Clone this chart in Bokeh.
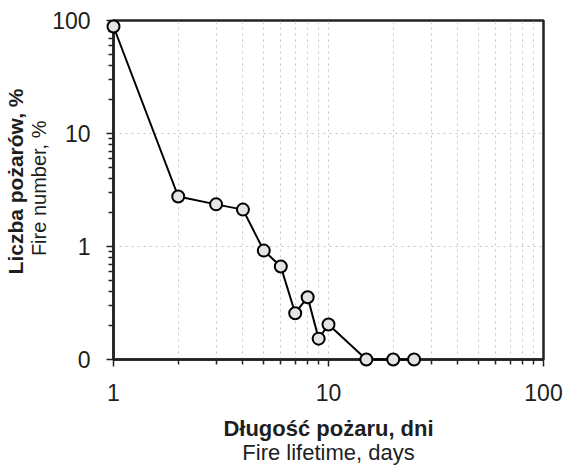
from bokeh.plotting import figure
from bokeh.models import Range1d, FixedTicker, PrintfTickFormatter, Title, ColumnDataSource
from bokeh.embed import file_html
from bokeh.resources import INLINE

# ---- data ----
days = [1, 2, 3, 4, 5, 6, 7, 8, 9, 10, 15, 20, 25]
fire_pct = [88.5, 2.77, 2.36, 2.12, 0.92, 0.665, 0.257, 0.356, 0.153, 0.204, 0.1, 0.1, 0.1]

x_major = [1, 10, 100]
x_minor = [2, 3, 4, 5, 6, 7, 8, 9, 20, 30, 40, 50, 60, 70, 80, 90]
y_major = [0.1, 1, 10, 100]
y_minor = [0.2, 0.3, 0.4, 0.5, 0.6, 0.7, 0.8, 0.9, 2, 3, 4, 5, 6, 7, 8, 9,
           20, 30, 40, 50, 60, 70, 80, 90]

x_title_pl = "Długość pożaru, dni"
x_title_en = "Fire lifetime, days"
y_title_pl = "Liczba pożarów, %"
y_title_en = "Fire number, %"

FONT = "Liberation Sans"
TXT = "#1e1e1e"

p = figure(width=564, height=468, x_axis_type="log", y_axis_type="log",
           x_range=Range1d(1, 100), y_range=Range1d(0.1, 100),
           output_backend="svg", toolbar_location=None,
           min_border_left=113, min_border_right=21,
           min_border_top=20, min_border_bottom=109)
p.background_fill_color = "white"
p.border_fill_color = "white"
p.outline_line_color = "#222222"
p.outline_line_width = 2.5

xt = FixedTicker(ticks=x_major, minor_ticks=x_minor)
yt = FixedTicker(ticks=y_major, minor_ticks=y_minor)
p.xaxis.ticker = xt
p.yaxis.ticker = yt
p.xgrid.ticker = xt
p.ygrid.ticker = yt
p.xaxis.formatter = PrintfTickFormatter(format="%.0f")
p.yaxis.formatter = PrintfTickFormatter(format="%.0f")

for ax in (p.xaxis, p.yaxis):
    ax.axis_line_color = "#222222"
    ax.axis_line_width = 2.5
    ax.major_tick_line_color = "#222222"
    ax.minor_tick_line_color = "#222222"
    ax.major_tick_line_width = 1.5
    ax.minor_tick_line_width = 1.5
    ax.major_tick_in = 0
    ax.major_tick_out = 7
    ax.minor_tick_in = 0
    ax.minor_tick_out = 5
    ax.major_label_text_font = FONT
    ax.major_label_text_font_size = "23px"
    ax.major_label_text_color = TXT
p.yaxis.major_label_standoff = 16
p.xaxis.major_label_standoff = 17

# inner x title line = axis label (bold)
p.xaxis.axis_label = x_title_pl
p.xaxis.axis_label_text_font = FONT
p.xaxis.axis_label_text_font_size = "22px"
p.xaxis.axis_label_text_font_style = "bold"
p.xaxis.axis_label_text_color = TXT
p.xaxis.axis_label_standoff = 12

p.xgrid.grid_line_color = "#c4c4c4"
p.xgrid.grid_line_dash = "dotted"
p.xgrid.minor_grid_line_color = "#c4c4c4"
p.xgrid.minor_grid_line_dash = "dotted"
p.ygrid.grid_line_color = "#c4c4c4"
p.ygrid.grid_line_dash = "dotted"
p.ygrid.minor_grid_line_color = None

src = ColumnDataSource(data=dict(x=days, y=fire_pct))
p.line("x", "y", source=src, line_color="black", line_width=2, level="overlay")
p.scatter("x", "y", source=src, size=12, fill_color="#e4e4e6",
          line_color="black", line_width=2, level="overlay")

tx2 = Title(text=x_title_en, align="center", text_font=FONT, text_font_size="22px",
            text_font_style="normal", text_color=TXT, standoff=-12)
p.add_layout(tx2, "below")

ty2 = Title(text=y_title_en, align="right", offset=100, text_font=FONT,
            text_font_size="20px", text_font_style="normal", text_color=TXT, standoff=0)
ty1 = Title(text=y_title_pl, align="right", offset=68, text_font=FONT,
            text_font_size="21px", text_font_style="bold", text_color=TXT, standoff=-2)
p.add_layout(ty2, "left")
p.add_layout(ty1, "left")

open("out.html", "w").write(file_html(p, INLINE))
